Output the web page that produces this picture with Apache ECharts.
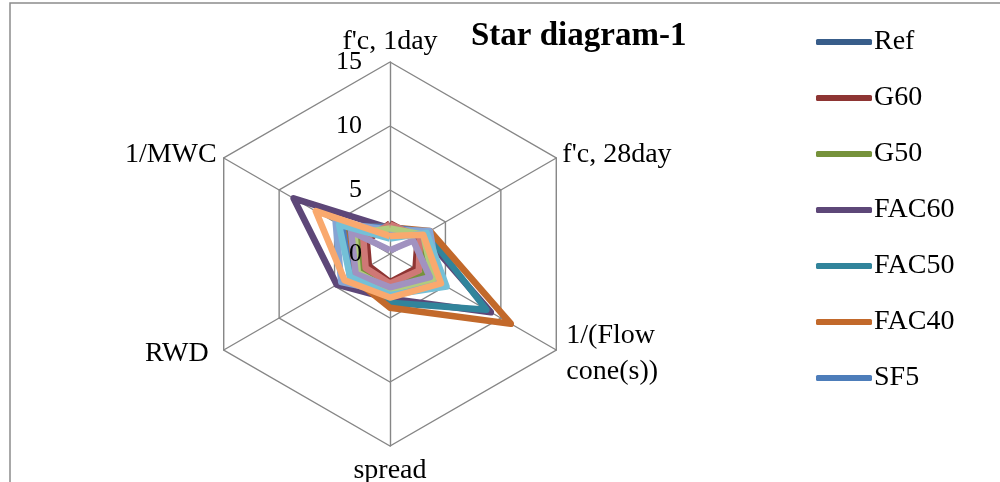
<!DOCTYPE html>
<html>
<head>
<meta charset="utf-8">
<script src="https://cdn.jsdelivr.net/npm/echarts@6/dist/echarts.min.js"></script>
<style>
  html, body { margin: 0; padding: 0; background: #fff; }
  #chart { width: 1000px; height: 482px; }
</style>
</head>
<body>
<div id="chart"></div>
<script>
// Axes, listed clockwise from the top
const categories = ["f'c, 1day", "f'c, 28day", "1/(Flow\ncone(s))", "spread", "RWD", "1/MWC"];
const axisMax = 15;
const tickStep = 5;

// Mixes shown in the legend (values in the same order as categories)
const legendNames = ['Ref', 'G60', 'G50', 'FAC60', 'FAC50', 'FAC40', 'SF5'];
const Ref   = [2.0, 3.2, 4.0, 2.7, 2.8, 3.4];
const G60   = [2.4, 2.5, 2.3, 2.2, 1.9, 2.1];
const G50   = [2.2, 3.0, 3.2, 2.5, 2.5, 3.0];
const FAC60 = [2.0, 3.0, 9.1, 3.5, 4.8, 8.7];
const FAC50 = [1.8, 3.3, 8.7, 3.8, 3.3, 4.0];
const FAC40 = [2.1, 3.6, 10.9, 4.2, 3.5, 4.2];
const SF5   = [2.1, 3.4, 4.2, 2.9, 3.6, 4.3];

// Further mixes drawn without a legend entry
const lightBlue   = [1.9, 3.6, 4.4, 3.0, 4.4, 4.9];
const lightRed    = [2.3, 2.7, 2.6, 2.3, 2.2, 2.4];
const lightGreen  = [2.0, 3.0, 3.9, 2.8, 2.9, 3.2];
const lightPurple = [0.3, 2.1, 3.6, 2.6, 3.1, 3.5];
const lightCyan   = [1.2, 3.3, 5.1, 3.2, 3.6, 4.6];
const lightOrange = [1.4, 3.0, 4.6, 3.4, 4.1, 6.7];

const seriesList = [
  { name: 'Ref',   values: Ref,   color: '#385D8A' },
  { name: 'G60',   values: G60,   color: '#8E3533' },
  { name: 'G50',   values: G50,   color: '#76923B' },
  { name: 'FAC60', values: FAC60, color: '#5D4778' },
  { name: 'FAC50', values: FAC50, color: '#31849B' },
  { name: 'FAC40', values: FAC40, color: '#C2692B' },
  { name: 'SF5',   values: SF5,   color: '#4D7DBA' },
  { name: '',      values: lightBlue,   color: '#86A4D4' },
  { name: '',      values: lightRed,    color: '#CF7876' },
  { name: '',      values: lightGreen,  color: '#B1CB7E' },
  { name: '',      values: lightPurple, color: '#A192C0' },
  { name: '',      values: lightCyan,   color: '#74C0D7' },
  { name: '',      values: lightOrange, color: '#F9A96E' }
];

// ECharts lays radar indicators out counter-clockwise, so reverse all but the first
const order = [0, 5, 4, 3, 2, 1];
const FONT = 'Liberation Serif';

// Fine placement of each axis title (padding: top, right, bottom, left)
const namePadding = [
  [0, 0, 0, 0],     // f'c, 1day
  [6, 0, 0, 0],     // f'c, 28day
  [12, 0, 0, 4],    // 1/(Flow cone(s))
  [0, 0, 0, 0],     // spread
  [4, 9, 0, 0],     // RWD
  [8, 1, 0, 0]      // 1/MWC
];
const nameGaps = [2, 7, 7, 7, 7, 7];

const RADAR_CENTER = [390, 254];
const RADAR_RADIUS = 192;

// Radar 0: grid, spokes and axis titles (under the series)
const gridIndicators = order.map(k => ({
  name: categories[k],
  min: 0,
  max: axisMax,
  nameGap: nameGaps[k],
  nameTextStyle: { padding: namePadding[k] }
}));

// Radar 1: same geometry, carries only the tick values so they sit above the lines
const labelIndicators = order.map((k, i) => {
  const ind = { name: '', min: 0, max: axisMax };
  if (i === 0) {
    ind.axisLabel = {
      show: true,
      color: '#000',
      fontFamily: FONT,
      fontSize: 26,
      margin: 28,
      showMinLabel: true,
      showMaxLabel: true,
      hideOverlap: false
    };
  }
  return ind;
});

const chart = echarts.init(document.getElementById('chart'), null, { renderer: 'canvas' });

chart.setOption({
  animation: false,
  backgroundColor: '#fff',
  title: {
    text: 'Star diagram-1',
    left: 466,
    top: 15,
    textStyle: { fontFamily: FONT, fontSize: 33, fontWeight: 'bold', color: '#000' }
  },
  legend: {
    orient: 'vertical',
    left: 811,
    top: 23,
    itemGap: 28,
    itemWidth: 56,
    itemHeight: 6,
    icon: 'roundRect',
    data: legendNames,
    textStyle: { fontFamily: FONT, fontSize: 28, lineHeight: 28, color: '#000', padding: [0, 0, 0, -3] }
  },
  graphic: [{
    type: 'rect',
    shape: { x: 10, y: 3, width: 1000, height: 520 },
    style: { fill: 'none', stroke: '#8C8C8C', lineWidth: 1.5 },
    silent: true
  }],
  radar: [{
    z: 1,
    center: RADAR_CENTER,
    radius: RADAR_RADIUS,
    shape: 'polygon',
    splitNumber: axisMax / tickStep,
    startAngle: 90,
    indicator: gridIndicators,
    nameGap: 7,
    axisName: { color: '#000', fontFamily: FONT, fontSize: 28, lineHeight: 36 },
    axisLine: { lineStyle: { color: '#868686', width: 1.4 } },
    splitLine: { lineStyle: { color: '#868686', width: 1.4 } },
    splitArea: { show: false },
    axisTick: { show: false },
    axisLabel: { show: false }
  }, {
    z: 10,
    center: RADAR_CENTER,
    radius: RADAR_RADIUS,
    shape: 'polygon',
    splitNumber: axisMax / tickStep,
    startAngle: 90,
    indicator: labelIndicators,
    axisName: { show: false },
    axisLine: { show: false },
    splitLine: { show: false },
    splitArea: { show: false },
    axisTick: { show: false },
    axisLabel: { show: false }
  }],
  series: seriesList.map(s => ({
    type: 'radar',
    radarIndex: 0,
    z: 2,
    name: s.name || undefined,
    symbol: 'none',
    color: s.color,
    lineStyle: { width: 6.5, color: s.color, join: 'round' },
    data: [{ value: order.map(k => s.values[k]), name: s.name || undefined }]
  }))
});
</script>
</body>
</html>
